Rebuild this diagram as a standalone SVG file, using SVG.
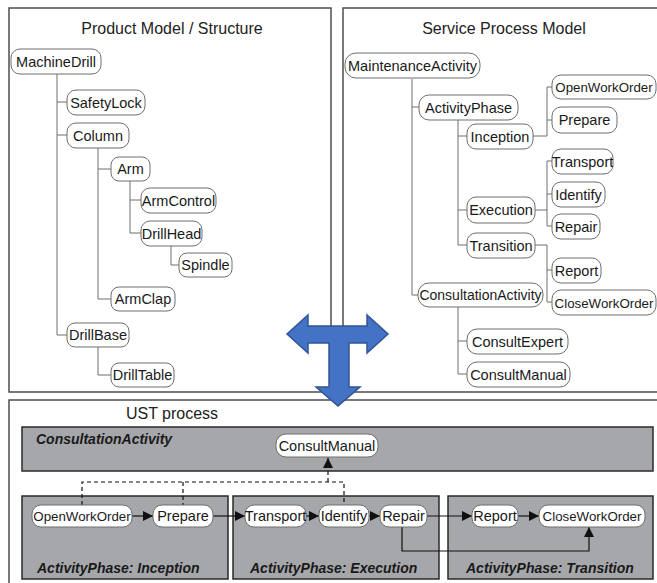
<svg xmlns="http://www.w3.org/2000/svg" width="657" height="583" viewBox="0 0 657 583">
<defs>
<style>
.panel{fill:none;stroke:#4d4d4d;stroke-width:1.5}
.node rect{fill:#fff;stroke:#6e6e6e;stroke-width:1}
.node text{font-family:"Liberation Sans",Arial,sans-serif;font-size:14.5px;fill:#1a1a1a;text-anchor:middle}
.node text.s{font-size:13.3px}
.node text.m{font-size:14px}
.title{font-family:"Liberation Sans",Arial,sans-serif;font-size:16px;fill:#222;text-anchor:middle}
.tree{fill:none;stroke:#6e6e6e;stroke-width:1}
.band{fill:#a6a7ab;stroke:#2a2a2a;stroke-width:1.5}
.blabel{font-family:"Liberation Sans",Arial,sans-serif;font-size:14px;font-weight:bold;font-style:italic;fill:#1a1a1a}
.flow{fill:none;stroke:#111;stroke-width:1.2}
.dash{fill:none;stroke:#111;stroke-width:1.2;stroke-dasharray:4 3}
</style>
<marker id="ah" viewBox="0 0 10 10" refX="10" refY="5" markerWidth="10" markerHeight="10" markerUnits="userSpaceOnUse" orient="auto">
<path d="M0,0 L10,5 L0,10 z" fill="#111"/>
</marker>
</defs>
<rect width="657" height="583" fill="#fff"/>

<!-- panels -->
<g id="panels">
<rect class="panel" x="9" y="8" width="322" height="384"/>
<path class="panel" d="M343,392 V8 H660 M660,392 H343"/>
<path class="panel" d="M660,400 H9 V590"/>
<text class="title" x="172" y="34">Product Model / Structure</text>
<text class="title" x="504" y="34">Service Process Model</text>
<text class="title" x="172" y="419">UST process</text>
</g>

<!-- bands -->
<g id="bands">
<rect class="band" x="22" y="427" width="631" height="44"/>
<rect class="band" x="22" y="496" width="206" height="83"/>
<rect class="band" x="233" y="496" width="206" height="83"/>
<rect class="band" x="448" y="496" width="205" height="83"/>
<text class="blabel" x="36" y="444">ConsultationActivity</text>
<text class="blabel" x="37" y="573">ActivityPhase: Inception</text>
<text class="blabel" x="250" y="573">ActivityPhase: Execution</text>
<text class="blabel" x="466" y="573">ActivityPhase: Transition</text>
</g>

<!-- connectors -->
<g id="connectors">
<path class="tree" d="M57,74 V335 M57,102 H67 M57,135 H67 M57,335 H67
M98,148 V299 M98,169 H111 M98,299 H111
M130,181 V233 M130,200 H141 M130,233 H141
M171,246 V265 H179
M98,347 V375 H111"/>
<path class="tree" d="M412,79 V295 M412,107 H419 M412,295 H418
M458,120 V245 M458,136 H467 M458,210 H467 M458,245 H467
M533,136 H547 M547,87 V136 M547,87 H552 M547,120 H552
M535,210 H547 M547,161 V226 M547,161 H552 M547,194 H552 M547,226 H552
M535,245 H547 V302 H552 M547,270 H552
M458,307 V374 M458,341 H467 M458,374 H467"/>
<path class="flow" d="M132,516 H153" marker-end="url(#ah)"/>
<path class="flow" d="M213,516 H245" marker-end="url(#ah)"/>
<path class="flow" d="M306,516 H319" marker-end="url(#ah)"/>
<path class="flow" d="M369,516 H380" marker-end="url(#ah)"/>
<path class="flow" d="M427,516 H472" marker-end="url(#ah)"/>
<path class="flow" d="M518,516 H539" marker-end="url(#ah)"/>
<path class="flow" d="M402,527 V551 H589 V527" marker-end="url(#ah)"/>
<path class="dash" d="M82,505 V482 H344 V505 M183,482 V505"/>
<path class="dash" d="M328,482 V458" marker-end="url(#ah)"/>
</g>

<!-- left tree nodes -->
<g id="n-MachineDrill" class="node"><rect x="11" y="49" width="90" height="25" rx="9"/><text x="56" y="66.5">MachineDrill</text></g>
<g id="n-SafetyLock" class="node"><rect x="67" y="90" width="78" height="25" rx="9"/><text x="106" y="107.5">SafetyLock</text></g>
<g id="n-Column" class="node"><rect x="67" y="123" width="62" height="25" rx="9"/><text x="98" y="140.5">Column</text></g>
<g id="n-Arm" class="node"><rect x="111" y="157" width="39" height="24" rx="8"/><text x="130.5" y="174">Arm</text></g>
<g id="n-ArmControl" class="node"><rect x="141" y="188" width="75" height="25" rx="9"/><text x="178.5" y="205.5">ArmControl</text></g>
<g id="n-DrillHead" class="node"><rect x="141" y="221" width="61" height="25" rx="9"/><text x="171.5" y="238.5">DrillHead</text></g>
<g id="n-Spindle" class="node"><rect x="179" y="253" width="53" height="24" rx="8"/><text x="205.5" y="270">Spindle</text></g>
<g id="n-ArmClap" class="node"><rect x="111" y="287" width="64" height="24" rx="8"/><text x="143" y="304">ArmClap</text></g>
<g id="n-DrillBase" class="node"><rect x="67" y="323" width="62" height="24" rx="8"/><text x="98" y="340">DrillBase</text></g>
<g id="n-DrillTable" class="node"><rect x="111" y="363" width="63" height="24" rx="8"/><text x="142.5" y="380">DrillTable</text></g>

<!-- right tree nodes -->
<g id="n-MaintenanceActivity" class="node"><rect x="345" y="53" width="135" height="25" rx="11"/><text x="412.5" y="70.5">MaintenanceActivity</text></g>
<g id="n-ActivityPhase" class="node"><rect x="419" y="95" width="99" height="25" rx="10"/><text x="468.5" y="112.5">ActivityPhase</text></g>
<g id="n-Inception" class="node"><rect x="467" y="124" width="66" height="25" rx="9"/><text x="500" y="141.5">Inception</text></g>
<g id="n-OpenWorkOrder" class="node"><rect x="552" y="75" width="104" height="24" rx="9"/><text class="s" x="604" y="92">OpenWorkOrder</text></g>
<g id="n-Prepare" class="node"><rect x="552" y="107" width="65" height="26" rx="9"/><text x="584.5" y="125">Prepare</text></g>
<g id="n-Transport" class="node"><rect x="552" y="149" width="61" height="25" rx="9"/><text x="582.5" y="166.5">Transport</text></g>
<g id="n-Identify" class="node"><rect x="552" y="182" width="53" height="25" rx="9"/><text x="578.5" y="199.5">Identify</text></g>
<g id="n-Execution" class="node"><rect x="467" y="197" width="68" height="26" rx="9"/><text x="501" y="215">Execution</text></g>
<g id="n-Repair" class="node"><rect x="552" y="214" width="48" height="25" rx="9"/><text x="576" y="231.5">Repair</text></g>
<g id="n-Transition" class="node"><rect x="467" y="233" width="68" height="25" rx="9"/><text x="501" y="250.5">Transition</text></g>
<g id="n-Report" class="node"><rect x="552" y="258" width="49" height="25" rx="9"/><text x="576.5" y="275.5">Report</text></g>
<g id="n-CloseWorkOrder" class="node"><rect x="552" y="290" width="104" height="25" rx="9"/><text class="s" x="604" y="307.5">CloseWorkOrder</text></g>
<g id="n-ConsultationActivity" class="node"><rect x="418" y="283" width="125" height="24" rx="11"/><text class="m" x="480.5" y="300">ConsultationActivity</text></g>
<g id="n-ConsultExpert" class="node"><rect x="467" y="329" width="101" height="25" rx="10"/><text x="517.5" y="346.5">ConsultExpert</text></g>
<g id="n-ConsultManual" class="node"><rect x="467" y="362" width="103" height="25" rx="10"/><text x="518.5" y="379.5">ConsultManual</text></g>

<!-- UST process nodes -->
<g id="u-ConsultManual" class="node"><rect x="276" y="434" width="102" height="23" rx="10"/><text x="327" y="450.5">ConsultManual</text></g>
<g id="u-OpenWorkOrder" class="node"><rect x="32" y="505" width="100" height="22" rx="9"/><text class="s" x="82" y="521">OpenWorkOrder</text></g>
<g id="u-Prepare" class="node"><rect x="153" y="505" width="60" height="22" rx="9"/><text x="183" y="521">Prepare</text></g>
<g id="u-Transport" class="node"><rect x="245" y="505" width="61" height="22" rx="9"/><text x="275.5" y="521">Transport</text></g>
<g id="u-Identify" class="node"><rect x="319" y="505" width="50" height="22" rx="9"/><text x="344" y="521">Identify</text></g>
<g id="u-Repair" class="node"><rect x="380" y="505" width="47" height="22" rx="9"/><text x="403.5" y="521">Repair</text></g>
<g id="u-Report" class="node"><rect x="472" y="505" width="46" height="22" rx="9"/><text x="495" y="521">Report</text></g>
<g id="u-CloseWorkOrder" class="node"><rect x="539" y="505" width="106" height="22" rx="9"/><text class="s" x="592" y="521">CloseWorkOrder</text></g>

<!-- blue T arrow -->
<g id="t-arrow">
<path d="M287,334 L308,315 V326 H367 V315 L388,334 L367,353 V343 H349 V387 H360 L338,406 L316,387 H329 V343 H308 V353 Z" fill="#4472c4" stroke="#2f5597" stroke-width="1.5" stroke-linejoin="miter"/>
</g>
</svg>
